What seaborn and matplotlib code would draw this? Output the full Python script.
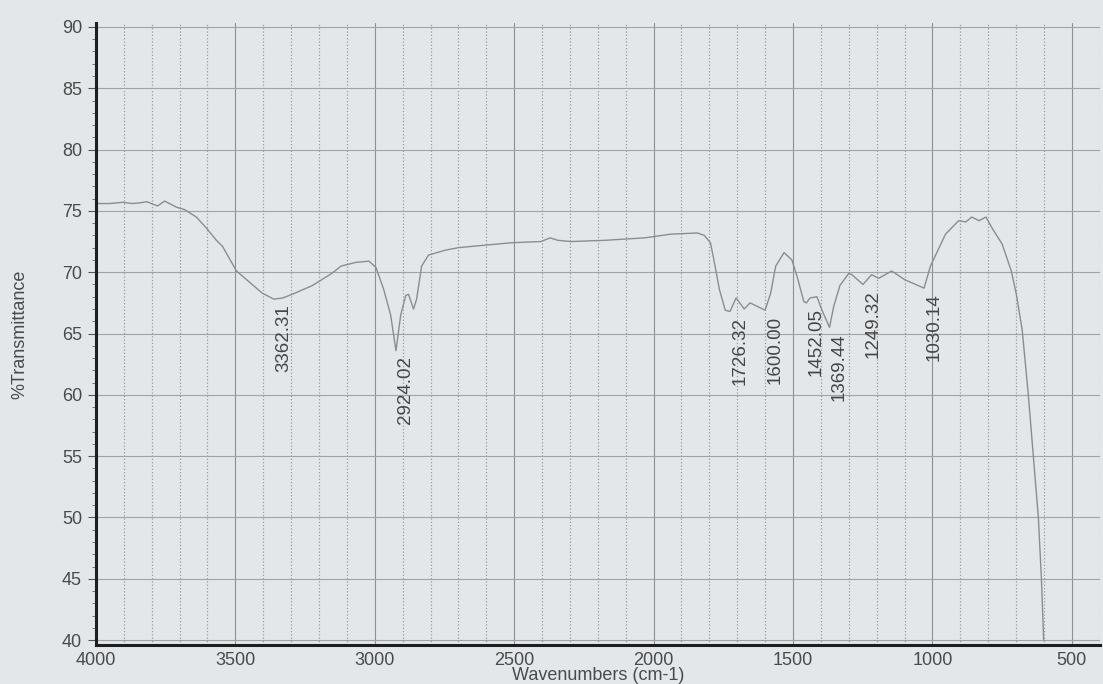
import matplotlib
matplotlib.use("Agg")
import matplotlib.pyplot as plt
from matplotlib.ticker import MultipleLocator
import seaborn as sns

# IR spectrum
wavenumber = [4000, 3950, 3904, 3870, 3843, 3818, 3779, 3754, 3711, 3682,
              3640, 3604, 3568, 3546, 3496, 3450, 3404, 3362, 3330, 3296,
              3225, 3154, 3121, 3068, 3021, 2996, 2968, 2943, 2924, 2907,
              2889, 2879, 2861, 2850, 2832, 2807, 2746, 2700, 2654, 2511,
              2404, 2371, 2343, 2296, 2175, 2032, 1939, 1843, 1818, 1796,
              1782, 1764, 1743, 1726, 1704, 1675, 1654, 1618, 1600, 1580,
              1562, 1532, 1504, 1486, 1461, 1452, 1439, 1414, 1396, 1369,
              1354, 1332, 1300, 1289, 1249, 1218, 1193, 1146, 1100, 1060,
              1030, 1007, 953, 906, 880, 859, 833, 808, 786, 750,
              717, 699, 678, 656, 638, 620, 609, 601]
transmittance = [75.6, 75.6, 75.7, 75.6, 75.65, 75.75, 75.4, 75.8, 75.3, 75.1,
                 74.5, 73.6, 72.6, 72.1, 70.1, 69.2, 68.3, 67.8, 67.9, 68.2,
                 68.9, 69.9, 70.5, 70.8, 70.9, 70.4, 68.6, 66.5, 63.6, 66.5,
                 68.1, 68.2, 67.0, 67.8, 70.5, 71.4, 71.8, 72.0, 72.1, 72.4,
                 72.5, 72.8, 72.6, 72.5, 72.6, 72.8, 73.1, 73.2, 73.0, 72.4,
                 70.8, 68.6, 66.9, 66.8, 67.9, 67.0, 67.5, 67.1, 66.9, 68.3,
                 70.5, 71.6, 71.0, 69.7, 67.6, 67.5, 67.9, 68.0, 66.9, 65.5,
                 67.2, 68.9, 69.9, 69.8, 69.0, 69.8, 69.5, 70.1, 69.4, 69.0,
                 68.7, 70.5, 73.1, 74.2, 74.1, 74.5, 74.2, 74.5, 73.6, 72.3,
                 70.1, 68.2, 65.3, 60.0, 55.0, 50.0, 45.0, 40.0]

# labelled peaks
peak_wn = [3362.31, 2924.02, 1726.32, 1600.00, 1452.05, 1369.44, 1249.32, 1030.14]
peak_t = [67.8, 63.6, 66.8, 66.9, 67.5, 65.5, 69.0, 68.7]

paper = "#e4e7ea"
ink = "#4a4a4a"

sns.set_theme(style="whitegrid")
plt.rcParams["font.family"] = ["Liberation Sans", "DejaVu Sans"]

fig = plt.figure(figsize=(11.03, 6.84), dpi=100, facecolor=paper)
ax = fig.add_axes([0.087, 0.057, 0.91, 0.909])
ax.set_facecolor(paper)

sns.lineplot(x=wavenumber, y=transmittance, ax=ax, sort=False,
             color="#8c8c8c", linewidth=1.0)

for wn, t in zip(peak_wn, peak_t):
    ax.annotate(f"{wn:.2f}", xy=(wn, t), xytext=(1, -4), textcoords="offset points",
                rotation=90, ha="left", va="top", fontsize=13.5, color="#454545")

ax.set_xlim(4000, 400)
ax.set_ylim(39.6, 90.3)

ax.xaxis.set_major_locator(MultipleLocator(500))
ax.xaxis.set_minor_locator(MultipleLocator(100))
ax.yaxis.set_major_locator(MultipleLocator(5))
ax.yaxis.set_minor_locator(MultipleLocator(1))

ax.grid(which="major", axis="x", color="#8f8f8f", linestyle="-", linewidth=0.8)
ax.grid(which="minor", axis="x", color="#9a9a9a", linestyle=":", linewidth=0.9)
ax.grid(which="major", axis="y", color="#a3a3a3", linestyle="-", linewidth=0.8)

for side in ["top", "right"]:
    ax.spines[side].set_visible(False)
for side in ["left", "bottom"]:
    ax.spines[side].set_color("#1e1e1e")
    ax.spines[side].set_linewidth(2.2)

ax.tick_params(axis="y", which="major", direction="out", length=6, width=0.8,
               color="#555555", labelsize=13, labelcolor=ink, pad=4, left=True)
ax.tick_params(axis="y", which="minor", direction="out", length=3, width=0.7,
               color="#777777", left=True)
ax.tick_params(axis="x", which="major", direction="out", length=0,
               labelsize=13, labelcolor=ink, pad=5)
ax.tick_params(axis="x", which="minor", length=0)

ax.set_ylabel("%Transmittance", fontsize=13, color=ink)
ax.yaxis.set_label_coords(-0.067, 0.5)
ax.set_xlabel("Wavenumbers (cm-1)", fontsize=13, color=ink)
ax.xaxis.set_label_coords(0.5, -0.036)

fig.savefig("out.png", dpi=100, facecolor=paper)
